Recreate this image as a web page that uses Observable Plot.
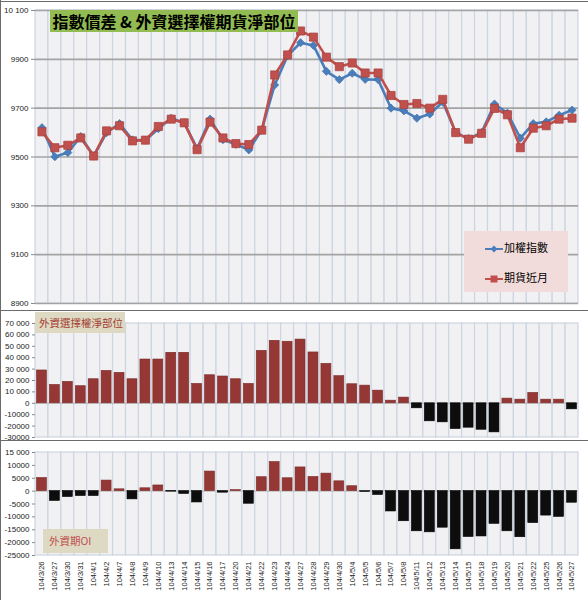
<!DOCTYPE html>
<html><head><meta charset="utf-8">
<script src="https://cdn.jsdelivr.net/npm/d3@7"></script>
<script src="https://cdn.jsdelivr.net/npm/@observablehq/plot@0.6"></script>
<style>
html,body{margin:0;padding:0;background:#fff;}
#wrap{position:relative;width:588px;height:600px;overflow:hidden;font-family:"Liberation Sans",Arial,sans-serif;}
.panel{position:absolute;left:0;width:588px;}
.panel svg{display:block;overflow:visible;}
.hline{position:absolute;left:0;width:588px;height:0;border-top:1.5px solid #6b6b6b;}
.vline{position:absolute;left:0;top:0;width:0;height:600px;border-left:1.5px solid #6b6b6b;}
.title{position:absolute;left:50px;top:10px;width:248px;height:22px;background:#92bc52;color:#000;font-family:"Noto Sans CJK TC",sans-serif;font-weight:bold;font-size:16px;line-height:22px;text-align:center;white-space:nowrap;}
.tag{position:absolute;background:#ddd9c3;font-family:"Noto Sans CJK TC",sans-serif;font-size:10.5px;white-space:nowrap;}
.legend{position:absolute;left:464px;top:231px;width:104px;height:61px;background:#f2dcdb;font-family:"Noto Sans CJK TC",sans-serif;font-size:11px;color:#000;}
.legend .row{position:absolute;left:21px;height:14px;line-height:14px;white-space:nowrap;}
.legend svg{vertical-align:middle;margin-right:1px;}
</style></head>
<body>
<div id="wrap">
  <div class="panel" id="p1" style="top:0"></div>
  <div class="panel" id="p2" style="top:308px"></div>
  <div class="panel" id="p3" style="top:440px"></div>
  <div class="hline" style="top:0.5px"></div>
  <div class="hline" style="top:310px"></div>
  <div class="hline" style="top:440px"></div>
  <div class="vline"></div>
  <div class="title">指數價差 &amp; 外資選擇權期貨淨部位</div>
  <div class="legend">
    <div class="row" style="top:9px"><svg width="18" height="10"><line x1="0" y1="5" x2="18" y2="5" stroke="#4a7ebb" stroke-width="2"/><path d="M9,1.5L12.5,5L9,8.5L5.5,5Z" fill="#4a7ebb"/></svg><span id="lg1"></span></div>
    <div class="row" style="top:39px"><svg width="18" height="10"><line x1="0" y1="5" x2="18" y2="5" stroke="#c0504d" stroke-width="2"/><rect x="5.5" y="1.5" width="7" height="7" fill="#c0504d"/></svg><span id="lg2"></span></div>
  </div>
  <div class="tag" style="left:35px;top:312px;width:90px;height:21px;line-height:21px;color:#a33c2f;padding-left:4px;box-sizing:border-box;">外資選擇權淨部位</div>
  <div class="tag" style="left:43px;top:529px;width:65px;height:24px;line-height:24px;color:#c0504d;padding-left:6px;box-sizing:border-box;">外資期OI</div>
</div>
<script>
const dates = ["104/3/26","104/3/27","104/3/30","104/3/31","104/4/1","104/4/2","104/4/7","104/4/8","104/4/9","104/4/10",
  "104/4/13","104/4/14","104/4/15","104/4/16","104/4/17","104/4/20","104/4/21","104/4/22","104/4/23","104/4/24",
  "104/4/27","104/4/28","104/4/29","104/4/30","104/5/4","104/5/5","104/5/6","104/5/7","104/5/8","104/5/11",
  "104/5/12","104/5/13","104/5/14","104/5/15","104/5/18","104/5/19","104/5/20","104/5/21","104/5/22","104/5/25",
  "104/5/26","104/5/27"];
const seriesNames = ["加權指數","期貨近月"];
const taiex = [9620,9501,9518,9584,9504,9600,9637,9570,9569,9616,
  9659,9640,9535,9655,9571,9552,9529,9610,9795,9915,
  9968,9957,9851,9817,9843,9818,9817,9700,9689,9659,
  9676,9725,9600,9575,9600,9717,9680,9577,9637,9644,
  9671,9692];
const futures = [9603,9538,9548,9578,9504,9607,9628,9566,9569,9625,
  9655,9640,9530,9643,9578,9555,9551,9610,9836,9918,
  10016,9991,9909,9870,9885,9844,9844,9752,9715,9719,
  9700,9736,9600,9573,9597,9699,9673,9538,9618,9628,
  9655,9659];
const optionsNet = [28800,16100,18800,15000,21100,28400,26700,21100,38400,38400,
  44300,44300,17000,24600,23500,21100,17000,46000,54800,54000,
  55900,44600,34600,23800,16700,15500,11100,2300,5000,-4400,
  -15800,-16700,-22600,-21400,-23200,-25500,4100,3200,9100,3200,
  3200,-5300];
const futuresOI = [5100,-3800,-2300,-1900,-1900,4100,700,-3200,1100,2200,
  -200,-1100,-4400,7600,-600,400,-4900,5400,11300,5000,
  9200,5500,6800,3800,1900,-300,-1500,-7900,-11700,-15600,
  -16000,-14200,-22600,-17800,-17600,-12700,-15600,-17900,-12400,-9500,
  -10000,-4500];
const topTicks = [8900,9100,9300,9500,9700,9900,10100];
const topTickLabels = ["8900","9100","9300","9500","9700","9900","10 100"];
const midTicks = [-30000,-20000,-10000,0,10000,20000,30000,40000,50000,60000,70000];
const midTickLabels = ["-30000","-20000","-10000","0","10 000","20 000","30 000","40 000","50 000","60 000","70 000"];
const botTicks = [-25000,-20000,-15000,-10000,-5000,0,5000,10000,15000];
const botTickLabels = ["-25000","-20000","-15000","-10000","-5000","0","5000","10000","15 000"];

document.getElementById("lg1").textContent = seriesNames[0];
document.getElementById("lg2").textContent = seriesNames[1];

const bgFill = "#f1f1f3", gridV = "#cdd5e2";
function bands(lo, hi) {
  return Plot.barY(dates, {x: d => d, y1: lo, y2: hi, fill: bgFill, stroke: gridV, strokeWidth: 1.2});
}
function labeler(ticks, labels) {
  const m = new Map(ticks.map((t, i) => [t, labels[i]]));
  return d => m.get(d);
}
const tickFont = {fontSize: 8, fill: "#222", stroke: "#8a8a8a", label: null};

const idxRows = dates.map((d, i) => ({date: d, v: taiex[i]}));
const futRows = dates.map((d, i) => ({date: d, v: futures[i]}));
const optRows = dates.map((d, i) => ({date: d, v: optionsNet[i]}));
const oiRows = dates.map((d, i) => ({date: d, v: futuresOI[i]}));

const topChart = Plot.plot({
  width: 588, height: 308, marginTop: 10, marginBottom: 5, marginLeft: 35, marginRight: 10,
  style: {background: "transparent", fontFamily: "Liberation Sans, Arial, sans-serif", overflow: "visible"},
  x: {type: "band", domain: dates, padding: 0, axis: null},
  y: {domain: [topTicks[0], topTicks[topTicks.length - 1]], axis: null},
  marks: [
    bands(topTicks[0], topTicks[topTicks.length - 1]),
    Plot.ruleY(topTicks, {stroke: "#a3a3a3", strokeWidth: 1.6}),
    Plot.axisY({ticks: topTicks, tickFormat: labeler(topTicks, topTickLabels), tickSize: 4, tickPadding: 3, ...tickFont}),
    Plot.line(idxRows, {x: "date", y: "v", stroke: "#4a7ebb", strokeWidth: 2.6}),
    Plot.dot(idxRows, {x: "date", y: "v", symbol: "diamond2", r: 3.7, fill: "#4a7ebb", stroke: "#3d6ea8", strokeWidth: 0.6}),
    Plot.line(futRows, {x: "date", y: "v", stroke: "#c0504d", strokeWidth: 2.6}),
    Plot.dot(futRows, {x: "date", y: "v", symbol: "square", r: 4.6, fill: "#c0504d", stroke: "#a83f3c", strokeWidth: 0.7})
  ]
});
document.getElementById("p1").appendChild(topChart);

function barChart(rows, ticks, labels, h, mt, mb, showX) {
  return Plot.plot({
    width: 588, height: h, marginTop: mt, marginBottom: mb, marginLeft: 35, marginRight: 10,
    style: {background: "transparent", fontFamily: "Liberation Sans, Arial, sans-serif", overflow: "visible"},
    x: {type: "band", domain: dates, padding: 0, axis: null},
    y: {domain: [ticks[0], ticks[ticks.length - 1]], axis: null},
    marks: [
      bands(ticks[0], ticks[ticks.length - 1]),
      Plot.ruleY([0], {stroke: "#b5b5b5", strokeWidth: 1}),
      Plot.axisY({ticks, tickFormat: labeler(ticks, labels), tickSize: 3, tickPadding: 3, ...tickFont}),
      Plot.barY(rows, {x: "date", y: "v", insetLeft: 1.5, insetRight: 1.5,
        fill: d => d.v >= 0 ? "#953735" : "#0d0d0d",
        stroke: d => d.v >= 0 ? "#7a2a28" : "#000", strokeWidth: 0.6}),
      ...(showX ? [Plot.axisX({tickRotate: -90, tickSize: 0, tickPadding: 6, fontSize: 7.5, fill: "#222", label: null})] : [])
    ]
  });
}
document.getElementById("p2").appendChild(barChart(optRows, midTicks, midTickLabels, 132, 15, 3, false));
document.getElementById("p3").appendChild(barChart(oiRows, botTicks, botTickLabels, 160, 12, 45, true));
</script>
</body></html>
